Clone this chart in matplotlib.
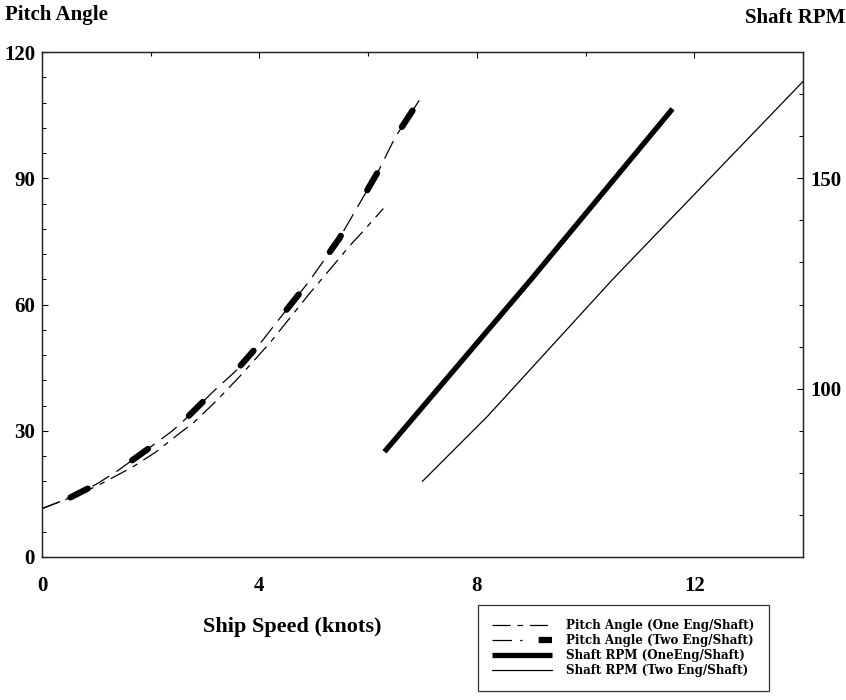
#!/usr/bin/env python3
# pitch angle and shaft rpm against ship speed, one vs two engines per shaft

import matplotlib
matplotlib.use("Agg")
import matplotlib.pyplot as plt
from matplotlib.legend_handler import HandlerTuple
from matplotlib.lines import Line2D
from matplotlib.ticker import MultipleLocator

# pitch angle (deg), one engine per shaft
speed_pitch_one = [0, 0.5, 1.0, 1.67, 2.1, 2.53, 2.78, 3.2, 3.63, 4.2, 4.92, 5.34, 5.65, 5.9, 6.28]
pitch_one = [11.5, 14, 16.8, 21.4, 25, 29.4, 31.8, 37, 42.8, 51, 62.6, 69, 73.8, 77.3, 82.8]

# pitch angle (deg), two engines per shaft
speed_pitch_two = [0, 0.5, 1.0, 1.37, 1.92, 2.4, 2.65, 3.14, 3.58, 4.06, 4.33, 4.92, 5.47, 5.77, 6.2, 6.5, 6.94]
pitch_two = [11.5, 14, 17.3, 20.3, 25.4, 30, 32.9, 39.2, 44.4, 51.5, 56, 65.6, 75.7, 82.4, 92, 99.8, 108.5]

# shaft rpm
speed_rpm_one = [6.3, 9.0, 11.6]
rpm_one = [85, 126, 166.5]
speed_rpm_two = [7.0, 8.2, 10.5, 14.0]
rpm_two = [78, 93.5, 126, 173]

labels = ["Pitch Angle (One Eng/Shaft)", "Pitch Angle (Two Eng/Shaft)",
          "Shaft RPM (OneEng/Shaft)", "Shaft RPM (Two Eng/Shaft)"]

plt.rcParams["font.family"] = ["Liberation Serif", "DejaVu Serif"]
plt.rcParams["font.weight"] = "bold"
plt.rcParams["lines.scale_dashes"] = False

fig = plt.figure(figsize=(8.46, 7.0), dpi=100)
ax = fig.add_axes([42/846, 1 - 557/700, (803-42)/846, (557-52)/700])
ax2 = ax.twinx()

l1, = ax.plot(speed_pitch_one, pitch_one, color="black", lw=0.9,
              dashes=(13, 5, 4, 5))
l2a, = ax.plot(speed_pitch_two, pitch_two, color="black", lw=0.9,
               dashes=(14, 6))
ax.plot(speed_pitch_two, pitch_two, color="black", lw=4.5,
        linestyle=(30, (14, 38)), dash_capstyle="round")
l3, = ax2.plot(speed_rpm_one, rpm_one, color="black", lw=3.8,
               solid_capstyle="butt")
l4, = ax2.plot(speed_rpm_two, rpm_two, color="black", lw=0.9)

# legend proxy: thick dash in the middle of the sample
l2b = Line2D([], [], color="black", lw=4.5, dashes=(0.001, 12, 14, 30),
             dash_capstyle="butt")

ax.set_xlim(0, 14)
ax.set_ylim(0, 120)
ax2.set_ylim(60, 180)

ax.xaxis.set_major_locator(MultipleLocator(4))
ax.xaxis.set_minor_locator(MultipleLocator(2))
ax.yaxis.set_major_locator(MultipleLocator(30))
ax.yaxis.set_minor_locator(MultipleLocator(6))
ax2.yaxis.set_minor_locator(MultipleLocator(10))
ax2.set_yticks([100, 150])

ax.tick_params(axis="x", which="both", bottom=False, top=True, direction="in",
               labelsize=15, pad=14)
ax.tick_params(axis="x", which="major", length=4, width=0.8)
ax.tick_params(axis="x", which="minor", length=3, width=0.8)
ax.tick_params(axis="y", which="major", direction="in", length=4, width=0.8,
               labelsize=15, pad=5)
ax.tick_params(axis="y", which="minor", direction="in", length=3, width=0.7)
ax2.tick_params(axis="y", which="major", direction="in", length=4, width=0.8,
                labelsize=15, pad=5)
ax2.tick_params(axis="y", which="minor", direction="in", length=3, width=0.7)

for a in (ax, ax2):
    for s in a.spines.values():
        s.set_linewidth(0.9)
        s.set_color("#222222")

fig.text(5/846, 1 - 15/700, "Pitch Angle", fontsize=15, fontweight="bold",
         ha="left", va="center")
fig.text(845/846, 1 - 18/700, "Shaft RPM", fontsize=15, fontweight="bold",
         ha="right", va="center")
fig.text(292/846, 1 - 627/700, "Ship Speed (knots)", fontsize=16,
         fontweight="bold", ha="center", va="center")

leg = fig.legend([l1, (l2a, l2b), l3, l4], labels,
                 handler_map={tuple: HandlerTuple(ndivide=None, pad=0)},
                 loc="upper left", bbox_to_anchor=(478/846, 1 - 605/700),
                 prop={"family": "DejaVu Serif", "weight": "bold", "size": 8.6},
                 frameon=True, fancybox=False, edgecolor="black",
                 handlelength=5.0, handletextpad=1.15, labelspacing=0.15,
                 borderpad=1.2, borderaxespad=0)
leg.get_frame().set_linewidth(0.9)

fig.savefig("out.png", dpi=100)
